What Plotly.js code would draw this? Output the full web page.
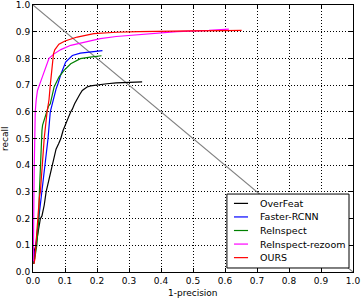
<!DOCTYPE html>
<html>
<head>
<meta charset="utf-8">
<script src="https://cdn.plot.ly/plotly-3.0.1.min.js"></script>
<style>html,body{margin:0;padding:0;background:#fff;}#chart{width:362px;height:300px;}</style>
</head>
<body>
<div id="chart"></div>
<script>
// ---- data ----
var seriesNames = ["OverFeat", "Faster-RCNN", "ReInspect", "ReInspect-rezoom", "OURS"];
var seriesColors = ["#000000", "#0000ff", "#008000", "#ff00ff", "#ff0000"];

var overfeatX = [0.002, 0.004, 0.009, 0.016, 0.023, 0.028, 0.035, 0.041, 0.047, 0.052, 0.058, 0.062, 0.072, 0.080, 0.087, 0.094, 0.100, 0.111, 0.118, 0.123, 0.130, 0.138, 0.146, 0.154, 0.162, 0.169, 0.180, 0.190, 0.210, 0.231, 0.260, 0.300, 0.341];
var overfeatY = [0.04, 0.08, 0.10, 0.15, 0.20, 0.21, 0.25, 0.30, 0.33, 0.35, 0.38, 0.40, 0.46, 0.48, 0.50, 0.53, 0.55, 0.58, 0.60, 0.61, 0.63, 0.649, 0.665, 0.680, 0.688, 0.693, 0.697, 0.699, 0.702, 0.705, 0.708, 0.710, 0.712];

var frcnnX = [0.002, 0.006, 0.009, 0.014, 0.018, 0.022, 0.025, 0.028, 0.033, 0.037, 0.042, 0.047, 0.054, 0.058, 0.064, 0.072, 0.078, 0.087, 0.102, 0.123, 0.148, 0.179, 0.217];
var frcnnY = [0.03, 0.06, 0.10, 0.16, 0.20, 0.26, 0.28, 0.30, 0.35, 0.40, 0.45, 0.50, 0.60, 0.62, 0.645, 0.685, 0.705, 0.740, 0.786, 0.811, 0.820, 0.824, 0.829];

var reinspX = [0.002, 0.004, 0.008, 0.012, 0.015, 0.018, 0.020, 0.023, 0.025, 0.026, 0.028, 0.030, 0.035, 0.041, 0.048, 0.054, 0.066, 0.081, 0.097, 0.118, 0.148, 0.179, 0.214];
var reinspY = [0.03, 0.05, 0.07, 0.10, 0.15, 0.20, 0.30, 0.40, 0.45, 0.50, 0.53, 0.55, 0.57, 0.60, 0.62, 0.63, 0.693, 0.730, 0.755, 0.780, 0.799, 0.805, 0.810];

var rezoomX = [0.001, 0.001, 0.002, 0.003, 0.004, 0.005, 0.007, 0.010, 0.014, 0.020, 0.030, 0.043, 0.050, 0.066, 0.087, 0.118, 0.159, 0.210, 0.260, 0.350, 0.450, 0.550, 0.612];
var rezoomY = [0.04, 0.10, 0.20, 0.30, 0.40, 0.50, 0.60, 0.645, 0.68, 0.70, 0.736, 0.780, 0.800, 0.817, 0.833, 0.849, 0.861, 0.874, 0.882, 0.890, 0.900, 0.905, 0.910];

var oursX = [0.003, 0.006, 0.009, 0.012, 0.014, 0.018, 0.020, 0.023, 0.028, 0.033, 0.035, 0.044, 0.050, 0.054, 0.060, 0.064, 0.068, 0.081, 0.100, 0.138, 0.190, 0.260, 0.330, 0.400, 0.500, 0.600, 0.652];
var oursY = [0.03, 0.05, 0.10, 0.16, 0.20, 0.25, 0.28, 0.30, 0.40, 0.456, 0.50, 0.60, 0.645, 0.70, 0.78, 0.817, 0.832, 0.853, 0.865, 0.880, 0.893, 0.898, 0.900, 0.902, 0.903, 0.904, 0.905];

var diagX = [0, 1];
var diagY = [1, 0];

var tickVals = [0, 0.1, 0.2, 0.3, 0.4, 0.5, 0.6, 0.7, 0.8, 0.9, 1.0];
var tickText = ["0.0", "0.1", "0.2", "0.3", "0.4", "0.5", "0.6", "0.7", "0.8", "0.9", "1.0"];
var xTitle = "1-precision";
var yTitle = "recall";

// ---- build traces ----
var xs = [overfeatX, frcnnX, reinspX, rezoomX, oursX];
var ys = [overfeatY, frcnnY, reinspY, rezoomY, oursY];
var FONT = "DejaVu Sans, sans-serif";

var traces = [{
  x: diagX, y: diagY, mode: "lines", showlegend: false, hoverinfo: "skip",
  line: {color: "#808080", width: 1.1}
}];
for (var i = 0; i < seriesNames.length; i++) {
  traces.push({
    x: xs[i], y: ys[i], name: seriesNames[i], mode: "lines", showlegend: false,
    line: {color: seriesColors[i], width: 1.2}
  });
}

// manual legend (box, sample lines, labels) placed in paper coordinates
var shapes = [{
  type: "rect", xref: "paper", yref: "paper", x0: 0.606, x1: 0.9875, y0: 0.015, y1: 0.292,
  line: {color: "#000", width: 1}, fillcolor: "#fff", layer: "above"
}];
var annotations = [];
for (var j = 0; j < seriesNames.length; j++) {
  var yy = 0.257 - j * 0.0508;
  shapes.push({type: "line", xref: "paper", yref: "paper", x0: 0.628, x1: 0.672, y0: yy, y1: yy,
    line: {color: seriesColors[j], width: 1.2}, layer: "above"});
  annotations.push({xref: "paper", yref: "paper", x: 0.703, y: yy, xanchor: "left", yanchor: "middle",
    text: seriesNames[j], showarrow: false, font: {family: FONT, size: 9.5, color: "#000"}});
}
// axis titles
annotations.push({xref: "paper", yref: "paper", x: 0.5, y: -0.079, xanchor: "center", yanchor: "middle",
  text: xTitle, showarrow: false, font: {family: FONT, size: 9, color: "#000"}});
annotations.push({xref: "paper", yref: "paper", x: -0.089, y: 0.5, xanchor: "center", yanchor: "middle",
  textangle: -90, text: yTitle, showarrow: false, font: {family: FONT, size: 9, color: "#000"}});

var axisCommon = {
  range: [0, 1], tickvals: tickVals, ticktext: tickText,
  showgrid: true, gridcolor: "#000", gridwidth: 1, griddash: "1px,2px",
  zeroline: false, showline: true, mirror: "ticks", linecolor: "#000", linewidth: 1,
  ticks: "inside", ticklen: 4, tickcolor: "#000", tickwidth: 1,
  tickfont: {family: FONT, size: 9, color: "#000"}, fixedrange: true
};

var layout = {
  width: 362, height: 300,
  margin: {l: 33, r: 9, t: 5, b: 28, pad: 0},
  paper_bgcolor: "#fff", plot_bgcolor: "#fff",
  showlegend: false,
  xaxis: axisCommon,
  yaxis: Object.assign({}, axisCommon),
  shapes: shapes,
  annotations: annotations
};

Plotly.newPlot("chart", traces, layout, {displayModeBar: false, staticPlot: true});
</script>
</body>
</html>
